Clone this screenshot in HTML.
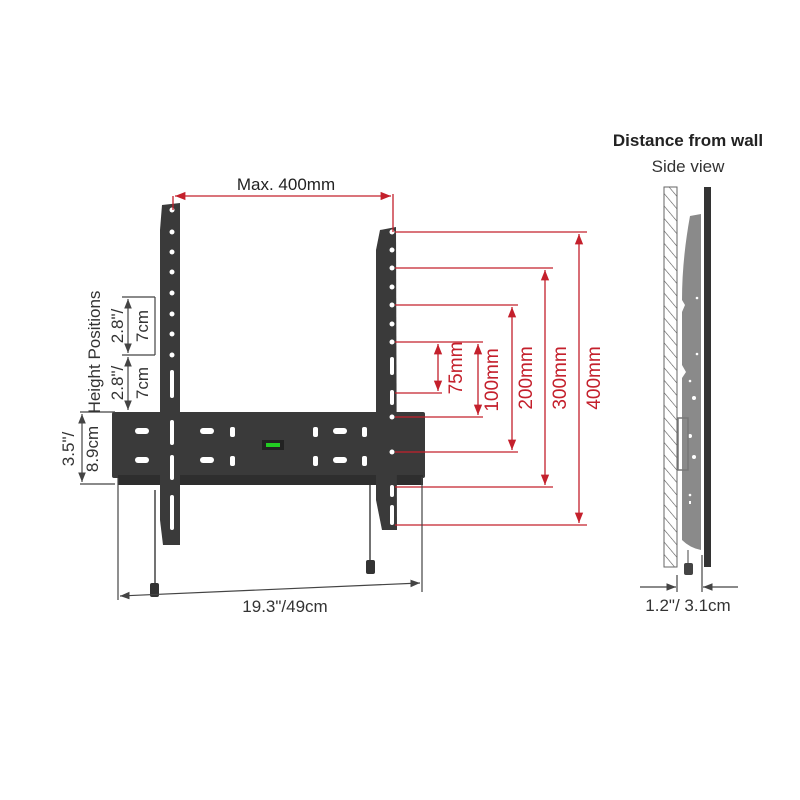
<!DOCTYPE html>
<html><head><style>body{margin:0;background:#fff}svg{display:block}text{font-family:"Liberation Sans",sans-serif}</style></head>
<body>
<svg width="800" height="800" viewBox="0 0 800 800" xmlns="http://www.w3.org/2000/svg">
<defs>
<marker id="ar" viewBox="0 0 10 10" refX="10" refY="5" markerWidth="8" markerHeight="8" orient="auto-start-reverse"><path d="M0,1 L10,5 L0,9z" fill="#c4202c"/></marker>
<marker id="ag" viewBox="0 0 10 10" refX="10" refY="5" markerWidth="8" markerHeight="8" orient="auto-start-reverse"><path d="M0,1 L10,5 L0,9z" fill="#444"/></marker>
<pattern id="hatch" width="8" height="8" patternUnits="userSpaceOnUse" patternTransform="rotate(-40)"><line x1="0" y1="0" x2="0" y2="8" stroke="#555" stroke-width="1.2"/></pattern>
</defs>
<g fill="#3a3a3a">
<rect x="112" y="412" width="313" height="66" rx="2"/>
<rect x="118" y="475" width="305" height="10" fill="#2e2e2e"/>
<path d="M162,205 L180,203 L180,545 L163,545 L160,520 L160,230z"/>
<path d="M380,230 L396,227 L397,530 L382,530 L376,500 L376,250z"/>
</g>
<g fill="#fff">
<rect x="262" y="440" width="22" height="10" fill="#222"/><rect x="266" y="443" width="14" height="4" fill="#2c2"/>
<rect x="135" y="428" width="14" height="6" rx="3"/><rect x="135" y="457" width="14" height="6" rx="3"/>
<rect x="200" y="428" width="14" height="6" rx="3"/><rect x="200" y="457" width="14" height="6" rx="3"/>
<rect x="333" y="428" width="14" height="6" rx="3"/><rect x="333" y="457" width="14" height="6" rx="3"/>
<rect x="230" y="427" width="5" height="10" rx="2"/><rect x="230" y="456" width="5" height="10" rx="2"/>
<rect x="313" y="427" width="5" height="10" rx="2"/><rect x="313" y="456" width="5" height="10" rx="2"/>
<rect x="362" y="427" width="5" height="10" rx="2"/><rect x="362" y="456" width="5" height="10" rx="2"/>
</g>
<g fill="#fff">
<circle cx="172" cy="210" r="2.5"/><circle cx="172" cy="232" r="2.5"/><circle cx="172" cy="252" r="2.5"/><circle cx="172" cy="272" r="2.5"/><circle cx="172" cy="293" r="2.5"/><circle cx="172" cy="314" r="2.5"/><circle cx="172" cy="334" r="2.5"/><circle cx="172" cy="355" r="2.5"/>
<rect x="170" y="370" width="4" height="28" rx="2"/><rect x="170" y="420" width="4" height="25" rx="2"/><rect x="170" y="455" width="4" height="25" rx="2"/><rect x="170" y="495" width="4" height="35" rx="2"/>
<circle cx="392" cy="232" r="2.5"/><circle cx="392" cy="250" r="2.5"/><circle cx="392" cy="268" r="2.5"/><circle cx="392" cy="287" r="2.5"/><circle cx="392" cy="305" r="2.5"/><circle cx="392" cy="324" r="2.5"/><circle cx="392" cy="342" r="2.5"/>
<rect x="390" y="357" width="4" height="18" rx="2"/><rect x="390" y="390" width="4" height="15" rx="2"/><circle cx="392" cy="417" r="2.5"/><circle cx="392" cy="452" r="2.5"/><rect x="390" y="485" width="4" height="12" rx="2"/><rect x="390" y="505" width="4" height="20" rx="2"/>
</g>
<g stroke="#444" stroke-width="1.5"><line x1="155" y1="490" x2="155" y2="585"/><line x1="370" y1="485" x2="370" y2="562"/></g>
<rect x="150" y="583" width="9" height="14" rx="2" fill="#333"/><rect x="366" y="560" width="9" height="14" rx="2" fill="#333"/>
<g stroke="#c4202c" stroke-width="1.3" fill="none">
<line x1="173" y1="196" x2="173" y2="210"/><line x1="393" y1="194" x2="393" y2="232"/>
<line x1="175" y1="196" x2="391" y2="196" marker-start="url(#ar)" marker-end="url(#ar)"/>
<line x1="395" y1="232" x2="587" y2="232"/><line x1="395" y1="268" x2="553" y2="268"/><line x1="395" y1="305" x2="518" y2="305"/><line x1="395" y1="342" x2="483" y2="342"/>
<line x1="395" y1="393" x2="442" y2="393"/><line x1="395" y1="417" x2="483" y2="417"/><line x1="395" y1="452" x2="518" y2="452"/><line x1="395" y1="487" x2="553" y2="487"/><line x1="395" y1="525" x2="587" y2="525"/>
<line x1="579" y1="234" x2="579" y2="523" marker-start="url(#ar)" marker-end="url(#ar)"/>
<line x1="545" y1="270" x2="545" y2="485" marker-start="url(#ar)" marker-end="url(#ar)"/>
<line x1="512" y1="307" x2="512" y2="450" marker-start="url(#ar)" marker-end="url(#ar)"/>
<line x1="478" y1="344" x2="478" y2="415" marker-start="url(#ar)" marker-end="url(#ar)"/>
<line x1="438" y1="344" x2="438" y2="391" marker-start="url(#ar)" marker-end="url(#ar)"/>
</g>
<g fill="#c4202c" font-size="19">
<text transform="translate(462,368) rotate(-90)" text-anchor="middle">75mm</text>
<text transform="translate(498,380) rotate(-90)" text-anchor="middle">100mm</text>
<text transform="translate(532,378) rotate(-90)" text-anchor="middle">200mm</text>
<text transform="translate(566,378) rotate(-90)" text-anchor="middle">300mm</text>
<text transform="translate(600,378) rotate(-90)" text-anchor="middle">400mm</text>
</g>
<text x="286" y="190" font-size="17" fill="#222" text-anchor="middle">Max. 400mm</text>
<g stroke="#444" stroke-width="1.2" fill="none">
<line x1="118" y1="478" x2="118" y2="600"/><line x1="422" y1="477" x2="422" y2="592"/>
<line x1="120" y1="596" x2="420" y2="583" marker-start="url(#ag)" marker-end="url(#ag)"/>
<line x1="80" y1="412" x2="115" y2="412"/><line x1="80" y1="484" x2="115" y2="484"/>
<line x1="82" y1="414" x2="82" y2="482" marker-start="url(#ag)" marker-end="url(#ag)"/>
<line x1="122" y1="297" x2="155" y2="297"/><line x1="122" y1="355" x2="155" y2="355"/>
<line x1="128" y1="299" x2="128" y2="353" marker-start="url(#ag)" marker-end="url(#ag)"/>
<line x1="128" y1="357" x2="128" y2="410" marker-start="url(#ag)" marker-end="url(#ag)"/>
<line x1="155" y1="297" x2="155" y2="355"/>
</g>
<g fill="#333" font-size="17">
<text x="285" y="612" text-anchor="middle">19.3"/49cm</text>
<text transform="translate(74,449) rotate(-90)" text-anchor="middle">3.5"/</text>
<text transform="translate(98,449) rotate(-90)" text-anchor="middle">8.9cm</text>
<text transform="translate(100,352) rotate(-90)" text-anchor="middle">Height Positions</text>
<text transform="translate(123,326) rotate(-90)" text-anchor="middle">2.8"/</text>
<text transform="translate(148,326) rotate(-90)" text-anchor="middle">7cm</text>
<text transform="translate(123,383) rotate(-90)" text-anchor="middle">2.8"/</text>
<text transform="translate(148,383) rotate(-90)" text-anchor="middle">7cm</text>
</g>
<text x="688" y="146" font-size="17" font-weight="bold" fill="#222" text-anchor="middle">Distance from wall</text>
<text x="688" y="172" font-size="17" fill="#333" text-anchor="middle">Side view</text>
<rect x="664" y="187" width="13" height="380" fill="url(#hatch)" stroke="#666" stroke-width="1"/>
<rect x="704" y="187" width="7" height="380" fill="#333"/>
<path d="M701,214 L690,216 Q682,260 682,300 L685,305 L682,312 L682,365 L686,372 L682,378 L682,540 Q690,548 701,550z" fill="#8a8a8a"/>
<g fill="#fff"><circle cx="697" cy="298" r="1.3"/><circle cx="697" cy="354" r="1.3"/><circle cx="690" cy="381" r="1.3"/><circle cx="694" cy="398" r="2"/><circle cx="690" cy="436" r="2"/><circle cx="694" cy="457" r="2"/><circle cx="690" cy="495" r="1.3"/><rect x="689" y="501" width="2" height="3"/></g>
<rect x="678" y="418" width="10" height="52" fill="none" stroke="#777" stroke-width="1.5"/>
<line x1="688" y1="550" x2="688" y2="565" stroke="#444"/><rect x="684" y="563" width="9" height="12" rx="2" fill="#444"/>
<g stroke="#444" stroke-width="1.2"><line x1="677" y1="575" x2="677" y2="592"/><line x1="702" y1="555" x2="702" y2="592"/>
<line x1="640" y1="587" x2="676" y2="587" marker-end="url(#ag)"/><line x1="738" y1="587" x2="703" y2="587" marker-end="url(#ag)"/></g>
<text x="688" y="611" font-size="17" fill="#333" text-anchor="middle">1.2"/ 3.1cm</text>
</svg>
</body></html>
